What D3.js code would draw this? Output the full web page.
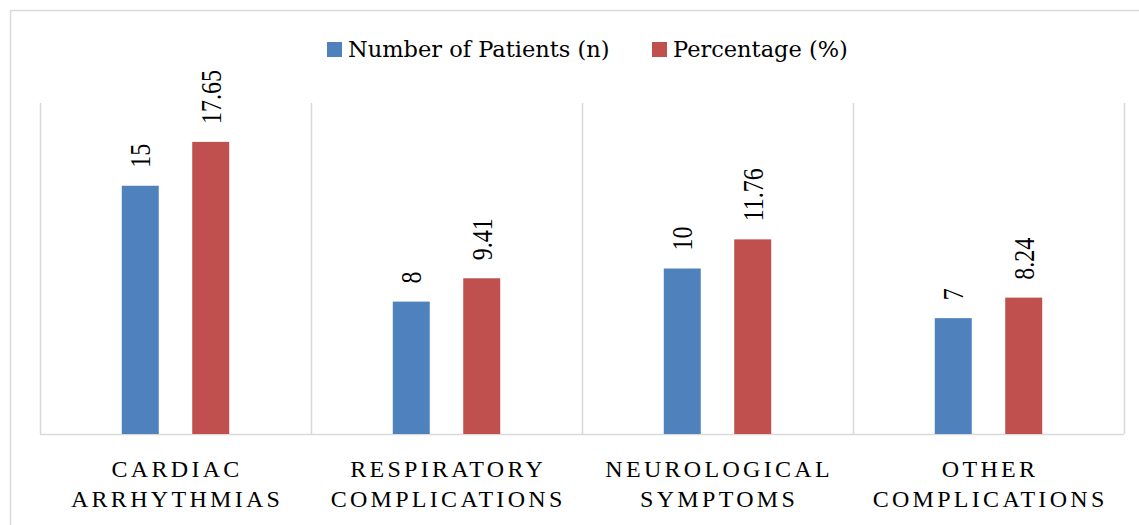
<!DOCTYPE html>
<html><head><meta charset="utf-8">
<script src="https://cdn.jsdelivr.net/npm/d3@7"></script>
<style>body{margin:0;background:#fff}svg{display:block}</style>
</head><body>
<svg id="chart" width="1139" height="525"></svg>
<script>
const categories = ["Cardiac Arrhythmias", "Respiratory Complications", "Neurological Symptoms", "Other Complications"];
const seriesNames = ["Number of Patients (n)", "Percentage (%)"];
const patients = [15, 8, 10, 7];
const percentages = [17.65, 9.41, 11.76, 8.24];
const valueLabels = [["15","8","10","7"],["17.65","9.41","11.76","8.24"]];
const colors = ["#4F81BD", "#C0504D"];
const yMax = 20;

const svg = d3.select("#chart");
const serif = "'Liberation Serif', 'Times New Roman', serif";
const legendFont = "'DejaVu Serif', serif";
const W = 1139, H = 525;
const plot = {left: 40, right: 1124, top: 103, bottom: 434};

svg.append("rect").attr("x", 10.5).attr("y", 10.5).attr("width", W + 20).attr("height", H + 20)
  .attr("fill", "#fff").attr("stroke", "#d9d9d9").attr("stroke-width", 1.5);

const x0 = d3.scaleBand().domain(categories).range([plot.left, plot.right]).paddingInner(0).paddingOuter(0);
const y = d3.scaleLinear().domain([0, yMax]).range([plot.bottom, plot.top]);

// vertical separators
const seps = categories.map(c => x0(c)).concat([plot.right]);
svg.append("g").selectAll("line").data(seps).join("line")
  .attr("x1", d => Math.round(d) + 0.5).attr("x2", d => Math.round(d) + 0.5)
  .attr("y1", plot.top).attr("y2", plot.bottom)
  .attr("stroke", "#d9d9d9").attr("stroke-width", 1.5);
// baseline
svg.append("line").attr("x1", plot.left).attr("x2", plot.right)
  .attr("y1", plot.bottom + 0.5).attr("y2", plot.bottom + 0.5)
  .attr("stroke", "#d9d9d9").attr("stroke-width", 1.5);

const bw = x0.bandwidth();
const barW = bw * 0.1365;
const offsets = [-bw * 0.13, bw * 0.13];
const series = [patients, percentages];
const valSize = 30;

series.forEach((vals, si) => {
  const g = svg.append("g");
  g.selectAll("rect").data(vals).join("rect")
    .attr("x", (d, i) => x0(categories[i]) + bw / 2 + offsets[si] - barW / 2)
    .attr("y", d => y(d))
    .attr("width", barW)
    .attr("height", d => y(0) - y(d))
    .attr("fill", colors[si]);
  g.selectAll("text").data(vals).join("text")
    .attr("transform", (d, i) => {
      const cx = x0(categories[i]) + bw / 2 + offsets[si] + valSize * 0.34;
      return `translate(${cx},${y(d) - 18}) rotate(-90) scale(0.8,1)`;
    })
    .attr("font-family", serif).attr("font-size", valSize).attr("fill", "#000")
    .text((d, i) => valueLabels[si][i]);
});

// category labels
categories.forEach(c => {
  const words = c.toUpperCase().split(" ");
  const t = svg.append("text")
    .attr("font-family", serif).attr("font-size", 24)
    .attr("letter-spacing", "3.3px")
    .attr("text-anchor", "middle").attr("fill", "#000");
  words.forEach((w, k) => {
    t.append("tspan").attr("x", x0(c) + bw / 2 + 1.6).attr("y", 477 + k * 30).text(w);
  });
});

// legend
const legX = [327, 652];
seriesNames.forEach((n, i) => {
  svg.append("rect").attr("x", legX[i]).attr("y", 42).attr("width", 15).attr("height", 15).attr("fill", colors[i]);
  svg.append("text").attr("x", legX[i] + 21).attr("y", 57)
    .attr("font-family", legendFont).attr("font-size", 22.5).attr("fill", "#000").text(n);
});
</script>
</body></html>
